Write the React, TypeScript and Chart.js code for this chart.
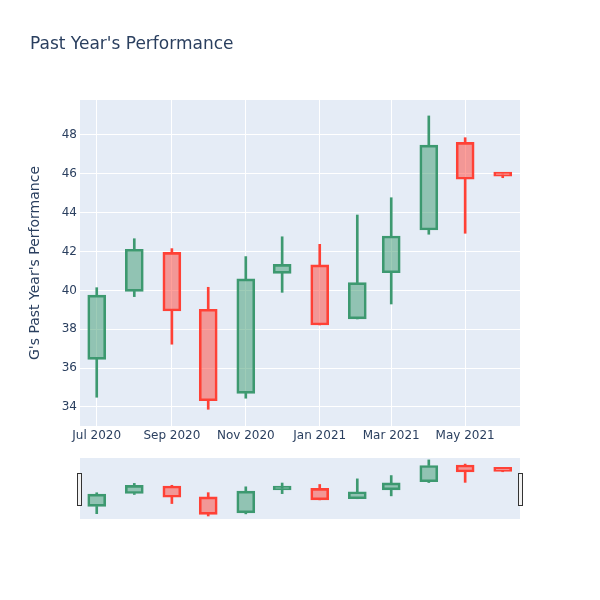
import React, { useEffect, useRef } from "react";
import { Chart, registerables } from "chart.js";

Chart.register(...registerables);

const dates = [
  "2020-07-01", "2020-08-01", "2020-09-01", "2020-10-01", "2020-11-01", "2020-12-01",
  "2021-01-01", "2021-02-01", "2021-03-01", "2021-04-01", "2021-05-01", "2021-06-01",
];
const opens = [36.45, 39.95, 41.96, 39.03, 34.7, 40.88, 41.31, 38.53, 40.91, 43.11, 47.62, 45.99];
const highs = [40.14, 42.66, 42.15, 40.16, 41.74, 42.76, 42.37, 43.88, 44.77, 48.98, 47.86, 45.99];
const lows = [34.5, 39.68, 37.23, 33.88, 34.45, 39.9, 38.22, 38.53, 39.3, 42.89, 42.94, 45.8];
const closes = [39.76, 42.12, 38.94, 34.32, 40.59, 41.34, 38.22, 40.4, 42.8, 47.48, 45.72, 45.88];

const xTickDates = ["2020-07-01", "2020-09-01", "2020-11-01", "2021-01-01", "2021-03-01", "2021-05-01"];
const xTickLabels = ["Jul 2020", "Sep 2020", "Nov 2020", "Jan 2021", "Mar 2021", "May 2021"];
const yTicks = [34, 36, 38, 40, 42, 44, 46, 48];

const titleText = "Past Year's Performance";
const yTitleText = "G's Past Year's Performance";

const INC = "#3D9970";
const DEC = "#FF4136";
const INC_FILL = "rgba(61,153,112,0.5)";
const DEC_FILL = "rgba(255,65,54,0.5)";
const FONT = "'DejaVu Sans', verdana, arial, sans-serif";
const TXT = "#2a3f5f";
const BG = "#E5ECF6";

const DAY = 86400000;
const ts = (d: string) => {
  const [y, m, dd] = d.split("-").map(Number);
  return Date.UTC(y, m - 1, dd);
};
const X_MIN = ts("2020-07-01") - 13.8 * DAY;
const X_MAX = ts("2021-06-01") + 14.25 * DAY;

function buildDatasets(bodyW: number, wickW: number) {
  const inc = opens.map((o, i) => closes[i] >= o);
  const line = inc.map((u) => (u ? INC : DEC));
  const fill = inc.map((u) => (u ? INC_FILL : DEC_FILL));
  return [
    {
      label: "upper",
      data: dates.map((d, i) => ({ x: ts(d), y: [Math.max(opens[i], closes[i]), highs[i]] })),
      backgroundColor: line,
      borderWidth: 0,
      barThickness: wickW,
      grouped: false,
      order: 3,
    },
    {
      label: "lower",
      data: dates.map((d, i) => ({ x: ts(d), y: [lows[i], Math.min(opens[i], closes[i])] })),
      backgroundColor: line,
      borderWidth: 0,
      barThickness: wickW,
      grouped: false,
      order: 2,
    },
    {
      label: "body",
      data: dates.map((d, i) => ({ x: ts(d), y: [opens[i], closes[i]] })),
      backgroundColor: fill,
      borderColor: line,
      borderWidth: 2,
      borderSkipped: false,
      barThickness: bodyW,
      minBarLength: 4,
      grouped: false,
      order: 1,
    },
  ];
}

const bgPlugin = {
  id: "bgPlugin",
  beforeDraw(chart: any) {
    const a = chart.chartArea;
    const ctx = chart.ctx;
    ctx.save();
    ctx.fillStyle = BG;
    ctx.fillRect(a.left, a.top, a.right - a.left, a.bottom - a.top);
    ctx.restore();
  },
};

const textPlugin = {
  id: "textPlugin",
  afterDraw(chart: any) {
    const ctx = chart.ctx;
    ctx.save();
    ctx.fillStyle = TXT;
    ctx.font = `17px ${FONT}`;
    ctx.textAlign = "left";
    ctx.textBaseline = "middle";
    ctx.fillText(titleText, 30, 45);
    ctx.translate(35, 263);
    ctx.rotate(-Math.PI / 2);
    ctx.font = `14px ${FONT}`;
    ctx.textAlign = "center";
    ctx.fillText(yTitleText, 0, 0);
    ctx.restore();
  },
};

const handlePlugin = {
  id: "handlePlugin",
  afterDraw(chart: any) {
    const ctx = chart.ctx;
    ctx.save();
    ctx.fillStyle = "#f2f2f2";
    ctx.strokeStyle = "#333";
    ctx.lineWidth = 1;
    for (const x of [77.5, 518.5]) {
      ctx.fillRect(x, 15.5, 4, 32);
      ctx.strokeRect(x, 15.5, 4, 32);
    }
    ctx.restore();
  },
};

export default function App() {
  const mainRef = useRef<HTMLCanvasElement>(null);
  const sliderRef = useRef<HTMLCanvasElement>(null);

  useEffect(() => {
    const main = new Chart(mainRef.current!, {
      type: "bar",
      data: { datasets: buildDatasets(18, 2) as any },
      options: {
        animation: false,
        responsive: false,
        maintainAspectRatio: false,
        devicePixelRatio: 1,
        layout: { padding: { left: 0, right: 80, top: 100, bottom: 0 } },
        plugins: { legend: { display: false }, tooltip: { enabled: false }, title: { display: false } },
        scales: {
          x: {
            type: "linear",
            min: X_MIN,
            max: X_MAX,
            offset: false,
            grid: { color: "#ffffff", lineWidth: 1, drawTicks: false, offset: false },
            border: { display: false },
            ticks: {
              autoSkip: false,
              maxRotation: 0,
              minRotation: 0,
              padding: 3,
              color: TXT,
              font: { family: FONT, size: 12 },
              callback: (v: any) => {
                const i = xTickDates.findIndex((d) => ts(d) === v);
                return i >= 0 ? xTickLabels[i] : "";
              },
            },
            afterBuildTicks: (s: any) => {
              s.ticks = xTickDates.map((d) => ({ value: ts(d) }));
            },
            afterFit: (s: any) => {
              s.height = 24;
            },
          },
          y: {
            type: "linear",
            min: 33.02,
            max: 49.8,
            grid: { color: "#ffffff", lineWidth: 1, drawTicks: false },
            border: { display: false },
            ticks: {
              padding: 3,
              color: TXT,
              font: { family: FONT, size: 12 },
              callback: (v: any) => String(v),
            },
            afterBuildTicks: (s: any) => {
              s.ticks = yTicks.map((v) => ({ value: v }));
            },
            afterFit: (s: any) => {
              s.width = 80;
            },
          },
        },
      } as any,
      plugins: [bgPlugin, textPlugin],
    });

    const slider = new Chart(sliderRef.current!, {
      type: "bar",
      data: { datasets: buildDatasets(18, 2) as any },
      options: {
        animation: false,
        responsive: false,
        maintainAspectRatio: false,
        devicePixelRatio: 1,
        layout: { padding: { left: 80, right: 80, top: 0, bottom: 0 } },
        plugins: { legend: { display: false }, tooltip: { enabled: false } },
        scales: {
          x: { type: "linear", min: X_MIN, max: X_MAX, offset: false, display: false },
          y: { type: "linear", min: 33.07, max: 49.5, display: false },
        },
      } as any,
      plugins: [bgPlugin, handlePlugin],
    });

    return () => {
      main.destroy();
      slider.destroy();
    };
  }, []);

  return (
    <div style={{ position: "fixed", left: 0, top: 0, width: 600, height: 600, background: "#fff" }}>
      <canvas ref={mainRef} width={600} height={450} style={{ position: "absolute", left: 0, top: 0 }} />
      <canvas ref={sliderRef} width={600} height={61} style={{ position: "absolute", left: 0, top: 458 }} />
    </div>
  );
}
